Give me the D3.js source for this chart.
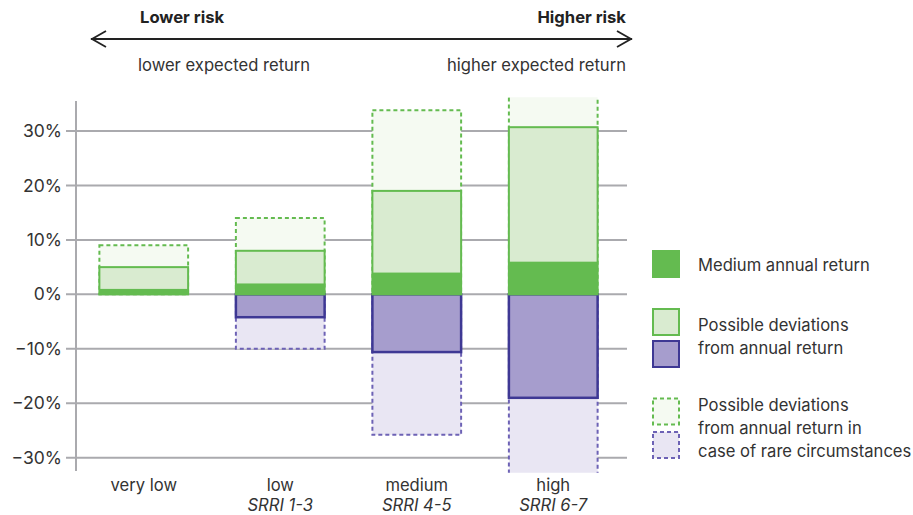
<!DOCTYPE html>
<html>
<head>
<meta charset="utf-8">
<script src="https://cdn.jsdelivr.net/npm/d3@7"></script>
<style>
  html, body { margin: 0; padding: 0; background: #fff; }
  svg { display: block; font-family: Inter, "Noto Sans", sans-serif; }
</style>
</head>
<body>
<svg id="chart" width="913" height="515"></svg>
<script>
// Risk classes and their return ranges (percent per year)
const categories = ["very low", "low", "medium", "high"];
const subLabels = ["", "SRRI 1-3", "SRRI 4-5", "SRRI 6-7"];
const mediumReturn = [1, 2, 4, 6];
const upDeviation = [5, 8, 19, 30.7];
const downDeviation = [0, -4.2, -10.6, -19];
const upRare = [9, 14, 33.8, 40];
const downRare = [0, -10, -25.8, -40];
const yTicks = [-30, -20, -10, 0, 10, 20, 30];

const legendItems = [
  { lines: ["Medium annual return"] },
  { lines: ["Possible deviations", "from annual return"] },
  { lines: ["Possible deviations", "from annual return in", "case of rare circumstances"] }
];

const colors = {
  text: "#333333",
  grid: "#aaaaae",
  green: "#64bb50",
  greenLight: "#d9ebd0",
  greenPale: "#f5faf2",
  purple: "#a69dcd",
  purpleStroke: "#3e3894",
  purplePale: "#e9e6f3",
  purpleDash: "#6d62b5"
};

const fontSize = 16.6;

const svg = d3.select("#chart");

const x = d3.scaleBand()
  .domain(categories)
  .range([75.5, 621.5])
  .paddingInner(0.35)
  .paddingOuter(0.175);

const y = d3.scaleLinear().domain([-30, 30]).range([457.7, 131]);

const plotTop = 97.3, plotBottom = 472.7;

// Grid lines with tick stubs
const grid = svg.append("g");
grid.selectAll("line")
  .data(yTicks)
  .join("line")
  .attr("x1", 66).attr("x2", 627)
  .attr("y1", d => y(d)).attr("y2", d => y(d))
  .attr("stroke", colors.grid).attr("stroke-width", 2);

grid.append("line")
  .attr("x1", 76).attr("x2", 76)
  .attr("y1", 101).attr("y2", 471)
  .attr("stroke", colors.grid).attr("stroke-width", 2);

grid.selectAll("text")
  .data(yTicks)
  .join("text")
  .attr("x", 62)
  .attr("y", d => y(d))
  .attr("dy", "0.35em")
  .attr("text-anchor", "end")
  .attr("font-size", 17.5)
  .attr("fill", colors.text)
  .text(d => (d < 0 ? "\u2212" + Math.abs(d) : d) + "%");

// Bars
svg.append("clipPath").attr("id", "plot-clip")
  .append("rect")
  .attr("x", 0).attr("y", plotTop)
  .attr("width", 913).attr("height", plotBottom - plotTop);

const bars = svg.append("g").attr("clip-path", "url(#plot-clip)");

function drawLayer(values, fill, stroke, strokeWidth, dash) {
  const rows = categories.map((c, i) => ({ c, v: values[i] })).filter(d => d.v !== 0);
  bars.append("g").selectAll("rect")
    .data(rows)
    .join("rect")
    .attr("x", d => x(d.c))
    .attr("width", x.bandwidth())
    .attr("y", d => Math.min(y(d.v), y(0)))
    .attr("height", d => Math.abs(y(d.v) - y(0)))
    .attr("fill", fill)
    .attr("stroke", stroke || "none")
    .attr("stroke-width", strokeWidth || 0)
    .attr("stroke-dasharray", dash || null);
}

drawLayer(upRare, colors.greenPale, colors.green, 2, "4,3");
drawLayer(downRare, colors.purplePale, colors.purpleDash, 2, "4,3");
drawLayer(downDeviation, colors.purple, colors.purpleStroke, 2.5);
drawLayer(upDeviation, colors.greenLight, colors.green, 2);
drawLayer(mediumReturn, colors.green);

// Category labels
const xLabels = svg.append("g");
categories.forEach((c, i) => {
  const cx = x(c) + x.bandwidth() / 2;
  xLabels.append("text")
    .attr("x", cx).attr("y", 491)
    .attr("text-anchor", "middle")
    .attr("font-size", fontSize)
    .attr("fill", colors.text)
    .text(c);
  if (subLabels[i]) {
    xLabels.append("text")
      .attr("x", cx).attr("y", 510.5)
      .attr("text-anchor", "middle")
      .attr("font-size", fontSize)
      .attr("font-style", "italic")
      .attr("fill", colors.text)
      .text(subLabels[i]);
  }
});

// Risk / return arrow header
const head = svg.append("g");
head.append("line")
  .attr("x1", 91).attr("x2", 632).attr("y1", 39).attr("y2", 39)
  .attr("stroke", "#222").attr("stroke-width", 1.8);
head.append("path")
  .attr("d", "M106,31 L92,39 L106,47 M617,31 L631,39 L617,47")
  .attr("fill", "none").attr("stroke", "#222").attr("stroke-width", 1.8);
head.append("text").attr("x", 140).attr("y", 23)
  .attr("font-size", fontSize).attr("font-weight", "bold").attr("fill", "#222")
  .text("Lower risk");
head.append("text").attr("x", 626).attr("y", 23).attr("text-anchor", "end")
  .attr("font-size", fontSize).attr("font-weight", "bold").attr("fill", "#222")
  .text("Higher risk");
head.append("text").attr("x", 138).attr("y", 71)
  .attr("font-size", fontSize).attr("fill", colors.text)
  .text("lower expected return");
head.append("text").attr("x", 626).attr("y", 71).attr("text-anchor", "end")
  .attr("font-size", fontSize).attr("fill", colors.text)
  .text("higher expected return");

// Legend
const legend = svg.append("g");
const swatches = [
  { y: 251, fill: colors.green, stroke: "none", dash: null },
  { y: 309, fill: colors.greenLight, stroke: colors.green, dash: null },
  { y: 341, fill: colors.purple, stroke: colors.purpleStroke, dash: null },
  { y: 398.5, fill: colors.greenPale, stroke: colors.green, dash: "4,3" },
  { y: 432, fill: colors.purplePale, stroke: colors.purpleDash, dash: "4,3" }
];
legend.selectAll("rect")
  .data(swatches)
  .join("rect")
  .attr("x", d => d.stroke === "none" ? 652 : 653)
  .attr("y", d => d.stroke === "none" ? d.y - 1 : d.y)
  .attr("width", d => d.stroke === "none" ? 28 : 26)
  .attr("height", d => d.stroke === "none" ? 28 : 26)
  .attr("fill", d => d.fill)
  .attr("stroke", d => d.stroke)
  .attr("stroke-width", 2)
  .attr("stroke-dasharray", d => d.dash);

const legendTextTop = [265, 325, 405];
legendItems.forEach((item, i) => {
  item.lines.forEach((line, j) => {
    legend.append("text")
      .attr("x", 698)
      .attr("y", legendTextTop[i] + j * 23)
      .attr("dy", "0.35em")
      .attr("font-size", fontSize)
      .attr("fill", colors.text)
      .text(line);
  });
});
</script>
</body>
</html>
